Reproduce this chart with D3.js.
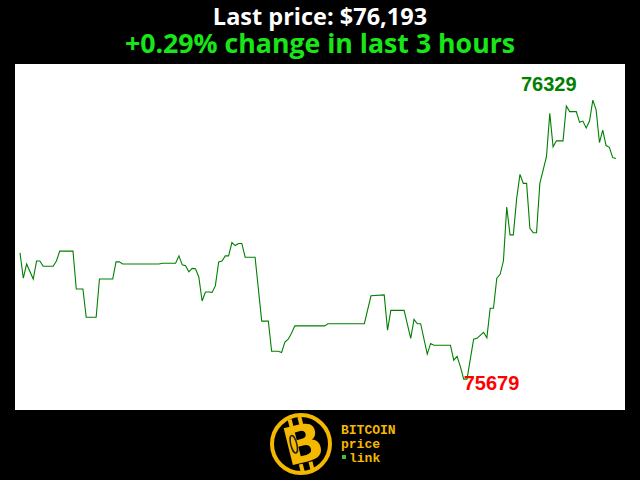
<!DOCTYPE html>
<html>
<head>
<meta charset="utf-8">
<script src="https://cdn.jsdelivr.net/npm/d3@7/dist/d3.min.js"></script>
<style>
  html, body { margin: 0; padding: 0; background: #000; }
  svg { display: block; }
</style>
</head>
<body>
<svg id="chart" width="640" height="480"></svg>
<script>
// ---- data (minutes since start of 3-hour window, price in USD) ----
const minutes = [0,1,2,4,5,6,7,10,11,12,16,17,19,20,23,24,28,29,30,31,42,43,47,48,49,50,51,52,53,54,55,56,57,58,59,60,61,62,63,64,65,66,67,68,71,73,75,76,78,79,80,81,82,83,92,93,104,106,110,111,112,116,118,119,120,121,123,124,125,130,131,132,133,134,135,137,138,139,140,141,142,143,144,145,146,147,148,149,150,151,152,153,154,155,156,157,159,160,161,162,164,165,166,168,169,170,171,172,173,174,175,176,177,178,179,180];
const prices = [75973,75914,75947,75912,75954,75954,75942,75942,75954,75977,75977,75889,75889,75823,75823,75912,75912,75952,75952,75947,75947,75949,75949,75966,75945,75943,75929,75937,75936,75917,75861,75882,75882,75881,75896,75952,75954,75966,75966,75997,75990,75995,75995,75963,75963,75814,75814,75744,75744,75741,75765,75772,75786,75803,75803,75808,75808,75873,75875,75793,75839,75839,75774,75818,75808,75808,75737,75762,75758,75758,75723,75732,75708,75679,75679,75772,75774,75781,75788,75775,75844,75844,75914,75923,75954,76080,76015,76015,76100,76156,76135,76135,76030,76020,76020,76135,76197,76298,76220,76234,76234,76315,76302,76302,76277,76280,76264,76280,76329,76306,76230,76259,76223,76219,76195,76193];
const titleLine1 = "Last price: $76,193";
const titleLine2 = "+0.29% change in last 3 hours";
const logoWords = ["BITCOIN", "price", "link"];

const svg = d3.select("#chart");

svg.append("rect").attr("x", 0).attr("y", 0).attr("width", 640).attr("height", 480).attr("fill", "#000");

// titles
svg.append("text").attr("x", 320).attr("y", 25).attr("text-anchor", "middle")
  .attr("font-family", "'Open Sans', sans-serif").attr("font-weight", "bold")
  .attr("font-size", 23.5).attr("fill", "#fff").text(titleLine1);
svg.append("text").attr("x", 320).attr("y", 53).attr("text-anchor", "middle")
  .attr("font-family", "'Open Sans', sans-serif").attr("font-weight", "bold")
  .attr("font-size", 26.7).attr("fill", "#19e619").text(titleLine2);

// plot area
const plot = { left: 15, top: 64, right: 625, bottom: 410 };
svg.append("rect").attr("x", plot.left).attr("y", plot.top)
  .attr("width", plot.right - plot.left).attr("height", plot.bottom - plot.top)
  .attr("fill", "#fff");

const x = d3.scaleLinear().domain([0, 180]).range([20, 616]);
const y = d3.scaleLinear().domain([75607, 76413]).range([plot.bottom, plot.top]);

const data = minutes.map((m, i) => ({ m, p: prices[i] }));

svg.append("path").datum(data)
  .attr("fill", "none").attr("stroke", "#008000").attr("stroke-width", 1.1)
  .attr("d", d3.line().x(d => x(d.m)).y(d => y(d.p)));

// max / min labels
const maxP = d3.max(prices), minP = d3.min(prices);
const maxD = data[d3.maxIndex(prices)], minD = data[d3.minIndex(prices)];
svg.append("text").attr("x", x(maxD.m) - 44).attr("y", y(maxP) - 9)
  .attr("text-anchor", "middle").attr("font-family", "'Liberation Sans', Arial, sans-serif")
  .attr("font-weight", "bold").attr("font-size", 20).attr("fill", "#008000").text(maxP);
svg.append("text").attr("x", x(minD.m)).attr("y", y(minP) + 11)
  .attr("text-anchor", "start").attr("font-family", "'Liberation Sans', Arial, sans-serif")
  .attr("font-weight", "bold").attr("font-size", 20).attr("fill", "#ff0000").text(minP);

// logo
const gold = "#f5b800";
const logo = svg.append("g");
logo.append("circle").attr("cx", 301).attr("cy", 444).attr("r", 29)
  .attr("fill", "none").attr("stroke", gold).attr("stroke-width", 4);
const bg = logo.append("g").attr("transform", "translate(303,444) rotate(-14)");
[[-9, -27], [1, -27], [-9, 19], [1, 19]].forEach(([bx, by]) =>
  bg.append("rect").attr("x", bx).attr("y", by).attr("width", 4).attr("height", 8).attr("fill", gold));
bg.append("text").attr("x", 0).attr("y", 18).attr("text-anchor", "middle")
  .attr("font-family", "'DejaVu Sans', sans-serif").attr("font-weight", "bold")
  .attr("font-size", 52).attr("fill", gold).text("B");
bg.append("ellipse").attr("cx", -9).attr("cy", -2).attr("rx", 3).attr("ry", 9)
  .attr("fill", "none").attr("stroke", "#222").attr("stroke-width", 1.5);

const mono = "'Liberation Mono', 'DejaVu Sans Mono', monospace";
logo.append("text").attr("x", 341).attr("y", 434).attr("font-family", mono).attr("font-weight", "bold")
  .attr("font-size", 13).attr("fill", gold).text(logoWords[0]);
logo.append("text").attr("x", 341).attr("y", 448).attr("font-family", mono).attr("font-weight", "bold")
  .attr("font-size", 13).attr("fill", gold).text(logoWords[1]);
logo.append("rect").attr("x", 342).attr("y", 455).attr("width", 4).attr("height", 4).attr("fill", "#3fbf3f");
logo.append("text").attr("x", 349).attr("y", 462).attr("font-family", mono).attr("font-weight", "bold")
  .attr("font-size", 13).attr("fill", gold).text(logoWords[2]);
</script>
</body>
</html>
